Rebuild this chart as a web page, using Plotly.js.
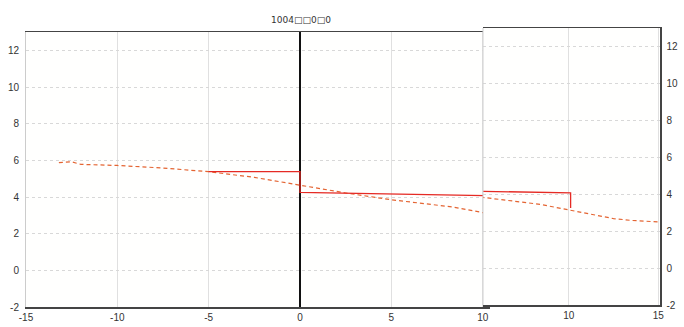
<!DOCTYPE html>
<html>
<head>
<meta charset="utf-8">
<script src="https://cdn.plot.ly/plotly-3.0.1.min.js"></script>
<style>html,body{margin:0;padding:0;background:#fff;}#chart{width:684px;height:327px;}</style>
</head>
<body>
<div id="chart"></div>
<script>
// Data
const titleText = "1004\u25A1\u25A10\u25A10";
const stepX = [-5, 0, 0, 10.1, 10.1];
const stepY = [5.38, 5.38, 4.25, 4.07, 3.25];
const dashX = [-13.2, -12.5, -12.0, -10, -7.5, -5, -2.5, 0, 2.5, 5, 7.5, 8.4, 10, 11, 12.5, 13.5, 15];
const dashY = [5.88, 5.92, 5.78, 5.72, 5.58, 5.38, 5.07, 4.65, 4.22, 3.85, 3.55, 3.45, 3.15, 2.95, 2.68, 2.58, 2.5];
const xTicksLeft = [-15, -10, -5, 0, 5, 10];
const xTicksRight = [10, 15];
const yTicks = [-2, 0, 2, 4, 6, 8, 10, 12];

const redLine = {color: '#e52a24', width: 1.3};
const dashLine = {color: 'rgb(228,100,50)', width: 1.2, dash: '4px,3px'};

const traces = [
  {x: dashX, y: dashY, xaxis: 'x', yaxis: 'y', mode: 'lines', line: dashLine, hoverinfo: 'skip'},
  {x: stepX, y: stepY, xaxis: 'x', yaxis: 'y', mode: 'lines', line: redLine, hoverinfo: 'skip'},
  {x: dashX, y: dashY, xaxis: 'x2', yaxis: 'y2', mode: 'lines', line: dashLine, hoverinfo: 'skip'},
  {x: stepX, y: stepY, xaxis: 'x2', yaxis: 'y2', mode: 'lines', line: redLine, hoverinfo: 'skip'}
];

const tickFont = {family: 'Liberation Sans, Arial, sans-serif', size: 10, color: '#333'};

const layout = {
  width: 684, height: 327,
  margin: {l: 0, r: 0, t: 0, b: 0, pad: 0},
  paper_bgcolor: '#ffffff',
  plot_bgcolor: '#fffffe',
  showlegend: false,
  title: {text: titleText, x: 301/684, xanchor: 'center', xref: 'paper', y: 1 - 20/327, yanchor: 'middle', yref: 'paper',
          font: {family: 'DejaVu Sans, sans-serif', size: 9, color: '#333'}},
  xaxis: {domain: [26/684, 490/684], range: [-15, 10.4], anchor: 'y',
          tickmode: 'array', tickvals: xTicksLeft, ticktext: xTicksLeft.map(String),
          showgrid: true, gridcolor: '#e0e0e0', gridwidth: 1,
          zeroline: true, zerolinecolor: '#111', zerolinewidth: 1.5,
          showline: true, mirror: true, linecolor: '#444', linewidth: 1.5,
          ticks: '', tickfont: tickFont, automargin: false},
  yaxis: {domain: [20/327, 295/327], range: [-2, 13], anchor: 'x',
          tickmode: 'array', tickvals: yTicks, ticktext: yTicks.map(String),
          showgrid: true, gridcolor: '#d8d8d8', griddash: 'dot', gridwidth: 1,
          zeroline: false, showline: true, linecolor: '#cccccc', linewidth: 1,
          ticks: 'outside', ticklen: 4, tickcolor: 'rgba(0,0,0,0)',
          tickfont: tickFont, automargin: false},
  xaxis2: {domain: [483/684, 660/684], range: [5.2, 15.1], anchor: 'y2',
          tickmode: 'array', tickvals: xTicksRight, ticktext: xTicksRight.map(String),
          showgrid: true, gridcolor: '#e0e0e0', gridwidth: 1, zeroline: false,
          showline: true, mirror: true, linecolor: '#444', linewidth: 1.5,
          ticks: '', tickfont: tickFont, automargin: false},
  yaxis2: {domain: [22/327, 299/327], range: [-2, 13], anchor: 'x2', side: 'right',
          tickmode: 'array', tickvals: yTicks, ticktext: yTicks.map(String),
          showgrid: true, gridcolor: '#d8d8d8', griddash: 'dot', gridwidth: 1,
          zeroline: false, showline: true, linecolor: '#444', linewidth: 1.5,
          ticks: 'outside', ticklen: 3, tickcolor: 'rgba(0,0,0,0)',
          tickfont: tickFont, automargin: false},
  shapes: [
    {type: 'line', xref: 'x2 domain', yref: 'y2 domain', x0: 0, x1: 0, y0: 0, y1: 1,
     line: {color: '#d0d0d0', width: 1}}
  ]
};

Plotly.newPlot('chart', traces, layout, {staticPlot: true, displayModeBar: false});
</script>
</body>
</html>
